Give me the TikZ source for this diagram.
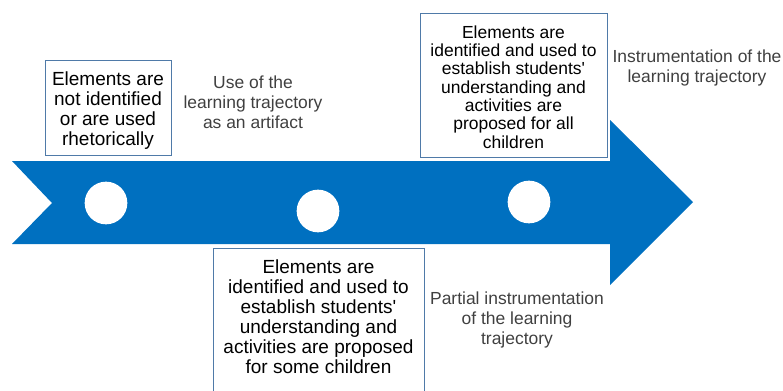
\documentclass[tikz,border=0pt]{standalone}
\usepackage{fontspec}
\setmainfont{Liberation Sans}[Ligatures=TeXOff]
\definecolor{arrowblue}{HTML}{0070C0}
\definecolor{boxline}{HTML}{4F7AA8}
\definecolor{greytext}{HTML}{404040}
\begin{document}
\begin{tikzpicture}[x=0.75pt,y=-0.75pt,
  box/.style={draw=boxline, line width=0.9pt, fill=white, inner sep=0pt, anchor=north west},
  boxtext/.style={align=center, inner sep=0pt, text=black, font=\fontsize{14.25}{15}\selectfont},
  smalltext/.style={align=center, inner sep=0pt, text=black, font=\fontsize{13.1}{13.7}\selectfont},
  greylabel/.style={align=center, inner sep=0pt, text=greytext, font=\fontsize{13.1}{15}\selectfont},
  dot/.style={circle, fill=white, inner sep=0pt, minimum size=32pt}]
\useasboundingbox (0,0) rectangle (783,390);
% arrow
\fill[arrowblue] (12,161) -- (610,161) -- (610,120) -- (693,202) -- (610,285) -- (610,244) -- (12,244) -- (52,203) -- cycle;
% circles
\node[dot] (c1) at (106,203) {};
\node[dot] (c2) at (318,211) {};
\node[dot] (c3) at (529,202) {};
% boxes
\node[box, minimum width=94.5pt, minimum height=71.25pt] (b1) at (45,60) {};
\node[boxtext] (t1) at (108,111) {Elements are\\not identified\\or are used\\rhetorically};
\node[box, minimum width=140.25pt, minimum height=108pt] (b3) at (420,13) {};
\node[smalltext] (t3) at (513.5,87) {Elements are\\identified and used to\\establish students'\\understanding and\\activities are\\proposed for all\\children};
\node[box, minimum width=158.25pt, minimum height=120pt] (b2) at (213,248) {};
\node[boxtext] (t2) at (318.5,317) {Elements are\\identified and used to\\establish students'\\understanding and\\activities are proposed\\for some children};
% grey labels
\node[greylabel] (g1) at (253,102) {Use of the\\learning trajectory\\as an artifact};
\node[greylabel] (g2) at (697,68) {Instrumentation of the\\learning trajectory};
\node[greylabel] (g3) at (517,320) {Partial instrumentation\\of the learning\\trajectory};
\end{tikzpicture}
\end{document}
